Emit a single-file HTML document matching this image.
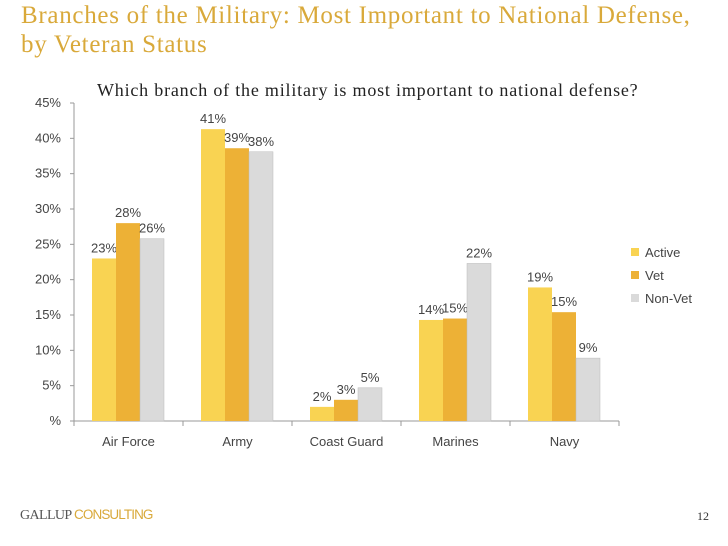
<!DOCTYPE html>
<html><head><meta charset="utf-8"><style>
body{margin:0;width:728px;height:546px;background:#fff;overflow:hidden;position:relative}
.t{position:absolute;left:21px;top:1px;font-family:"Liberation Serif",serif;font-size:25px;letter-spacing:0.7px;line-height:29px;color:#D9A93A}
.s{position:absolute;left:97px;top:80px;font-family:"Liberation Serif",serif;font-size:18px;letter-spacing:0.8px;color:#222}
.f{position:absolute;left:20px;top:507px;font-family:"Liberation Serif",serif;font-size:14px;color:#555;letter-spacing:-0.6px}
.f span{font-family:"Liberation Sans",sans-serif;color:#D9A93A;font-size:13.5px;letter-spacing:-0.9px}
.p{position:absolute;left:697px;top:509px;font-family:"Liberation Serif",serif;font-size:12px;color:#333}
</style></head><body>
<div class="t">Branches of the Military: Most Important to National Defense,<br>by Veteran Status</div>
<div class="s">Which branch of the military is most important to national defense?</div>
<svg id="c" width="728" height="546" style="position:absolute;left:0;top:0"></svg>
<div class="f">GALLUP <span>CONSULTING</span></div>
<div class="p">12</div>
<script>
const categories=["Air Force","Army","Coast Guard","Marines","Navy"];
const series=["Active","Vet","Non-Vet"];
const active=[23,41.3,2,14.3,18.9];
const vet=[28,38.6,3,14.5,15.4];
const nonVet=[25.8,38.1,4.7,22.3,8.9];
const labelsActive=["23%","41%","2%","14%","19%"];
const labelsVet=["28%","39%","3%","15%","15%"];
const labelsNonVet=["26%","38%","5%","22%","9%"];
const yTicks=[0,5,10,15,20,25,30,35,40,45];
const colors=["#F9D352","#EDB136","#DADADA"];
const svg=document.getElementById('c');const NS="http://www.w3.org/2000/svg";
const x0=74,cw=109,y0=421,yTop=103,ymax=45;
const y=v=>y0-(v/ymax)*(y0-yTop);
function mk(t,a,p){const e=document.createElementNS(NS,t);for(const k in a)e.setAttribute(k,a[k]);(p||svg).appendChild(e);return e;}
const F='font-family:"Liberation Sans",sans-serif;font-size:13px;fill:#444';
mk('line',{x1:x0,y1:yTop,x2:x0,y2:y0,stroke:'#999'});
mk('line',{x1:x0,y1:y0,x2:x0+cw*5,y2:y0,stroke:'#999'});
yTicks.forEach(t=>{mk('line',{x1:x0-4,y1:y(t),x2:x0,y2:y(t),stroke:'#999'});
const e=mk('text',{x:x0-13,y:y(t)+4,'text-anchor':'end',style:F});e.textContent=(t===0?'':t)+'%';

});
for(let i=0;i<=5;i++)mk('line',{x1:x0+i*cw,y1:y0,x2:x0+i*cw,y2:y0+5,stroke:'#999'});
const data=[active,vet,nonVet],labs=[labelsActive,labelsVet,labelsNonVet];
categories.forEach((c,i)=>{
const t=mk('text',{x:x0+i*cw+cw/2,y:y0+25,'text-anchor':'middle',style:F});t.textContent=c;


data.forEach((d,s)=>{const bx=x0+i*cw+18+s*24;
const r=mk('rect',{x:bx,y:y(d[i]),width:24,height:y0-y(d[i]),fill:colors[s],stroke:s==2?'#bbb':'none','stroke-width':0.5});


const l=mk('text',{x:bx+12,y:y(d[i])-6,'text-anchor':'middle',style:F});l.textContent=labs[s][i];

});});
series.forEach((s,k)=>{const ly=253+k*23;
const r=mk('rect',{x:631,y:ly-5,width:8,height:8,fill:colors[k]});


const t=mk('text',{x:645,y:ly+4,style:F});t.textContent=s;

});
</script>
</body></html>
